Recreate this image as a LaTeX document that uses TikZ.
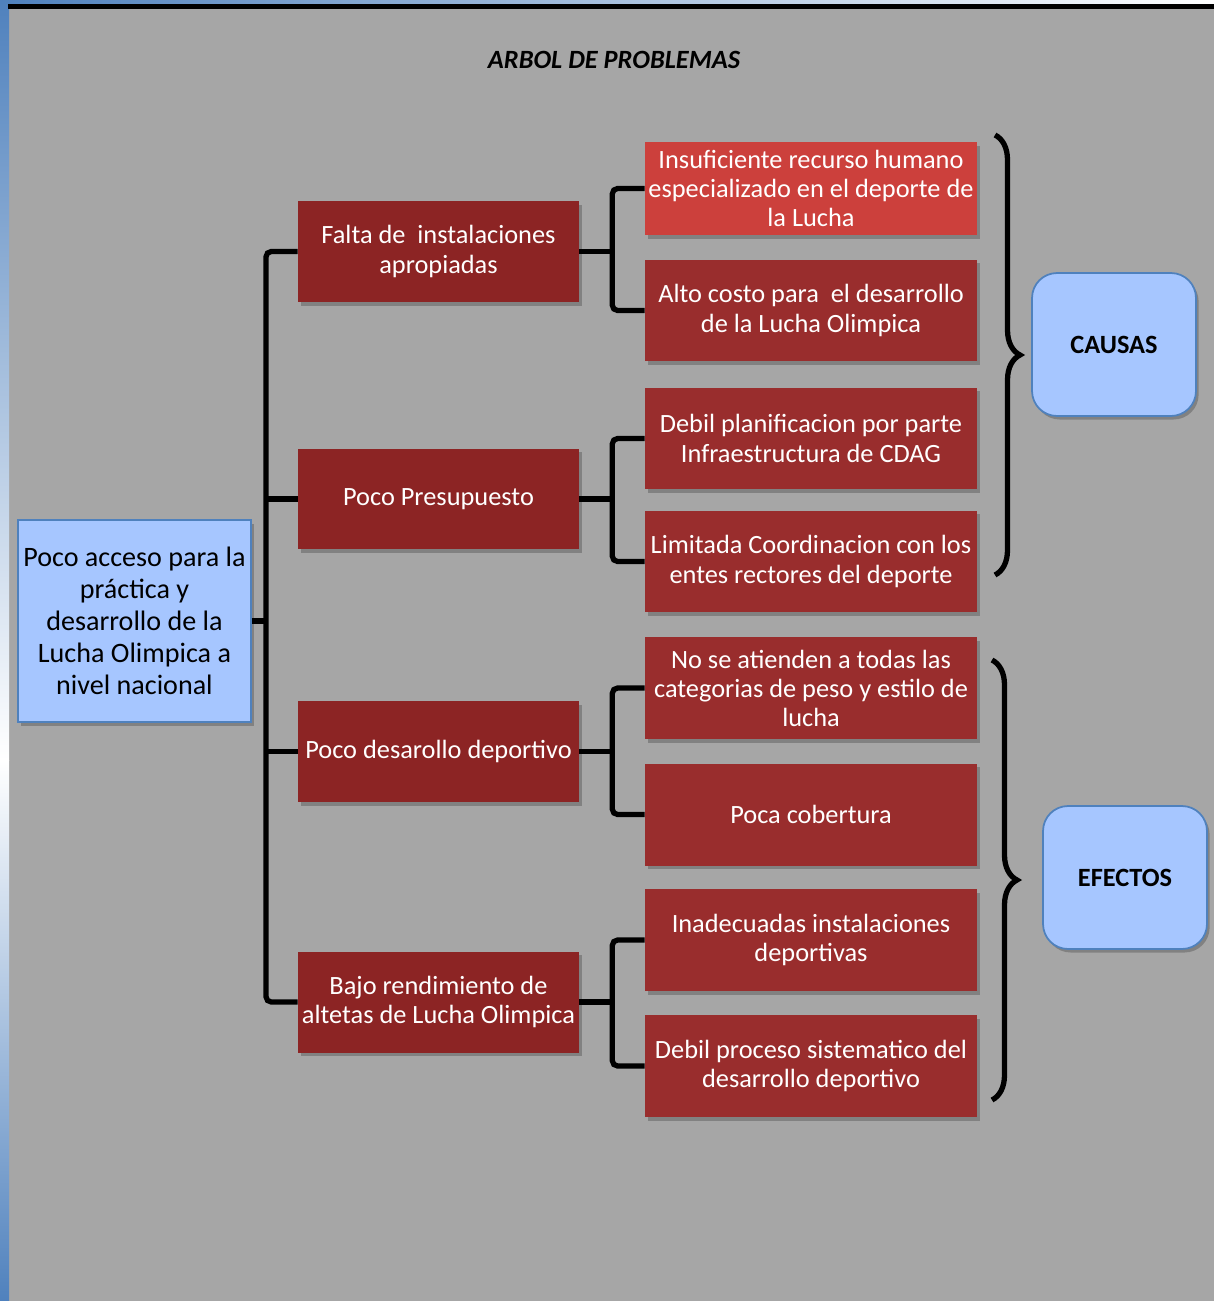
\documentclass[tikz,border=0pt]{standalone}
\usepackage{fontspec}
\setmainfont{Carlito}
\usetikzlibrary{shadows,decorations.pathreplacing}

\definecolor{bggray}{RGB}{166,166,166}
\definecolor{midred}{RGB}{140,36,36}
\definecolor{subred}{RGB}{153,45,45}
\definecolor{hotred}{RGB}{204,64,60}
\definecolor{paleblue}{RGB}{166,198,255}
\definecolor{edgeblue}{RGB}{79,129,189}

\tikzstyle{boxshadow}=[drop shadow={shadow xshift=1.5pt,shadow yshift=-2pt,opacity=0.22,fill=black}]
\tikzstyle{midbox}=[fill=midred,text=white,inner sep=0pt,minimum width=5.62cm,minimum height=2.02cm,align=center,font=\fontsize{15}{17}\selectfont,boxshadow]
\tikzstyle{subbox}=[midbox,fill=subred,minimum width=6.64cm,minimum height=2.04cm]
\tikzstyle{tagbox}=[fill=paleblue,draw=edgeblue,line width=1pt,rounded corners=0.5cm,inner sep=0pt,minimum width=3.28cm,minimum height=2.86cm,font=\fontsize{15}{18}\selectfont\bfseries,boxshadow]
\tikzstyle{treeline}=[line width=3pt,rounded corners=3pt]
\tikzstyle{bracket}=[line width=3pt,decorate,decoration={brace,amplitude=0.5cm}]

\begin{document}
\begin{tikzpicture}[x=0.02cm,y=-0.02cm]
% background
\fill[bggray] (0,0) rectangle (1214,1301);
\useasboundingbox (0,0) rectangle (1214,1301);
\shade[top color=edgeblue,bottom color=white] (0,0) rectangle (9,760);
\shade[top color=white,middle color=white,bottom color=edgeblue] (0,760) rectangle (9,1301);
\shade[left color=edgeblue,right color=white] (0,0) rectangle (1214,4);
\fill[black] (8,4.5) rectangle (1214,9);

\node[font=\fontsize{15}{18}\selectfont\bfseries\itshape] (title) at (614,60) {ARBOL DE PROBLEMAS};

% root
\node[fill=paleblue,draw=edgeblue,line width=1pt,inner sep=0pt,minimum width=4.66cm,minimum height=4.04cm,align=center,font=\fontsize{16}{18.2}\selectfont,boxshadow] (root) at (134.5,621) {Poco acceso para la\\ práctica y\\ desarrollo de la\\ Lucha Olimpica a\\ nivel nacional};

% middle level
\node[midbox] (falta) at (438.5,251.5) {Falta de\ \ instalaciones\\ apropiadas};
\node[midbox] (presup) at (438.5,499) {Poco Presupuesto};
\node[midbox] (desarr) at (438.5,751.5) {Poco desarollo deportivo};
\node[midbox] (bajo) at (438.5,1002) {Bajo rendimiento de\\ altetas de Lucha Olimpica};

% causes / effects
\node[subbox,fill=hotred,minimum height=1.86cm,font=\fontsize{15}{16.5}\selectfont] (insuf) at (811,188.5) {Insuficiente recurso humano\\ especializado en el deporte de\\ la Lucha};
\node[subbox] (alto) at (811,310.5) {Alto costo para\ \ el desarrollo\\ de la Lucha Olimpica};
\node[subbox] (planif) at (811,438.5) {Debil planificacion por parte\\ Infraestructura de CDAG};
\node[subbox] (coord) at (811,561.5) {Limitada Coordinacion con los\\ entes rectores del deporte};
\node[subbox,font=\fontsize{15}{16.5}\selectfont] (categ) at (811,688) {No se atienden a todas las\\ categorias de peso y estilo de\\ lucha};
\node[subbox] (cober) at (811,814.5) {Poca cobertura};
\node[subbox] (inadec) at (811,940) {Inadecuadas instalaciones\\ deportivas};
\node[subbox] (proceso) at (811,1066) {Debil proceso sistematico del\\ desarrollo deportivo};

\node[tagbox] (causas) at (1114,344.5) {CAUSAS};
\node[tagbox] (efectos) at (1125,877.5) {EFECTOS};

% trunk
\coordinate (trunk) at (266,621);
\draw[treeline] (falta.west) -- (falta.west -| trunk) -- (bajo.west -| trunk) -- (bajo.west);
\draw[treeline] (root.east) -- (trunk);
\draw[treeline] (presup.west) -- (presup.west -| trunk);
\draw[treeline] (desarr.west) -- (desarr.west -| trunk);

% splits
\coordinate (splitA) at ([xshift=0.66cm]falta.east);
\coordinate (splitB) at ([xshift=0.66cm]presup.east);
\coordinate (splitC) at ([xshift=0.66cm]desarr.east);
\coordinate (splitD) at ([xshift=0.66cm]bajo.east);
\draw[treeline] (falta.east) -- (splitA);
\draw[treeline] (insuf.west) -| (splitA) |- (alto.west);
\draw[treeline] (presup.east) -- (splitB);
\draw[treeline] (planif.west) -| (splitB) |- (coord.west);
\draw[treeline] (desarr.east) -- (splitC);
\draw[treeline] (categ.west) -| (splitC) |- (cober.west);
\draw[treeline] (bajo.east) -- (splitD);
\draw[treeline] (inadec.west) -| (splitD) |- (proceso.west);

% braces
\coordinate (causasTop) at (995,135);
\coordinate (causasBot) at (995,575);
\coordinate (efectosTop) at (992,660);
\coordinate (efectosBot) at (992,1100);
\draw[bracket] (causasTop) -- (causasBot);
\draw[bracket] (efectosTop) -- (efectosBot);
\end{tikzpicture}
\end{document}
